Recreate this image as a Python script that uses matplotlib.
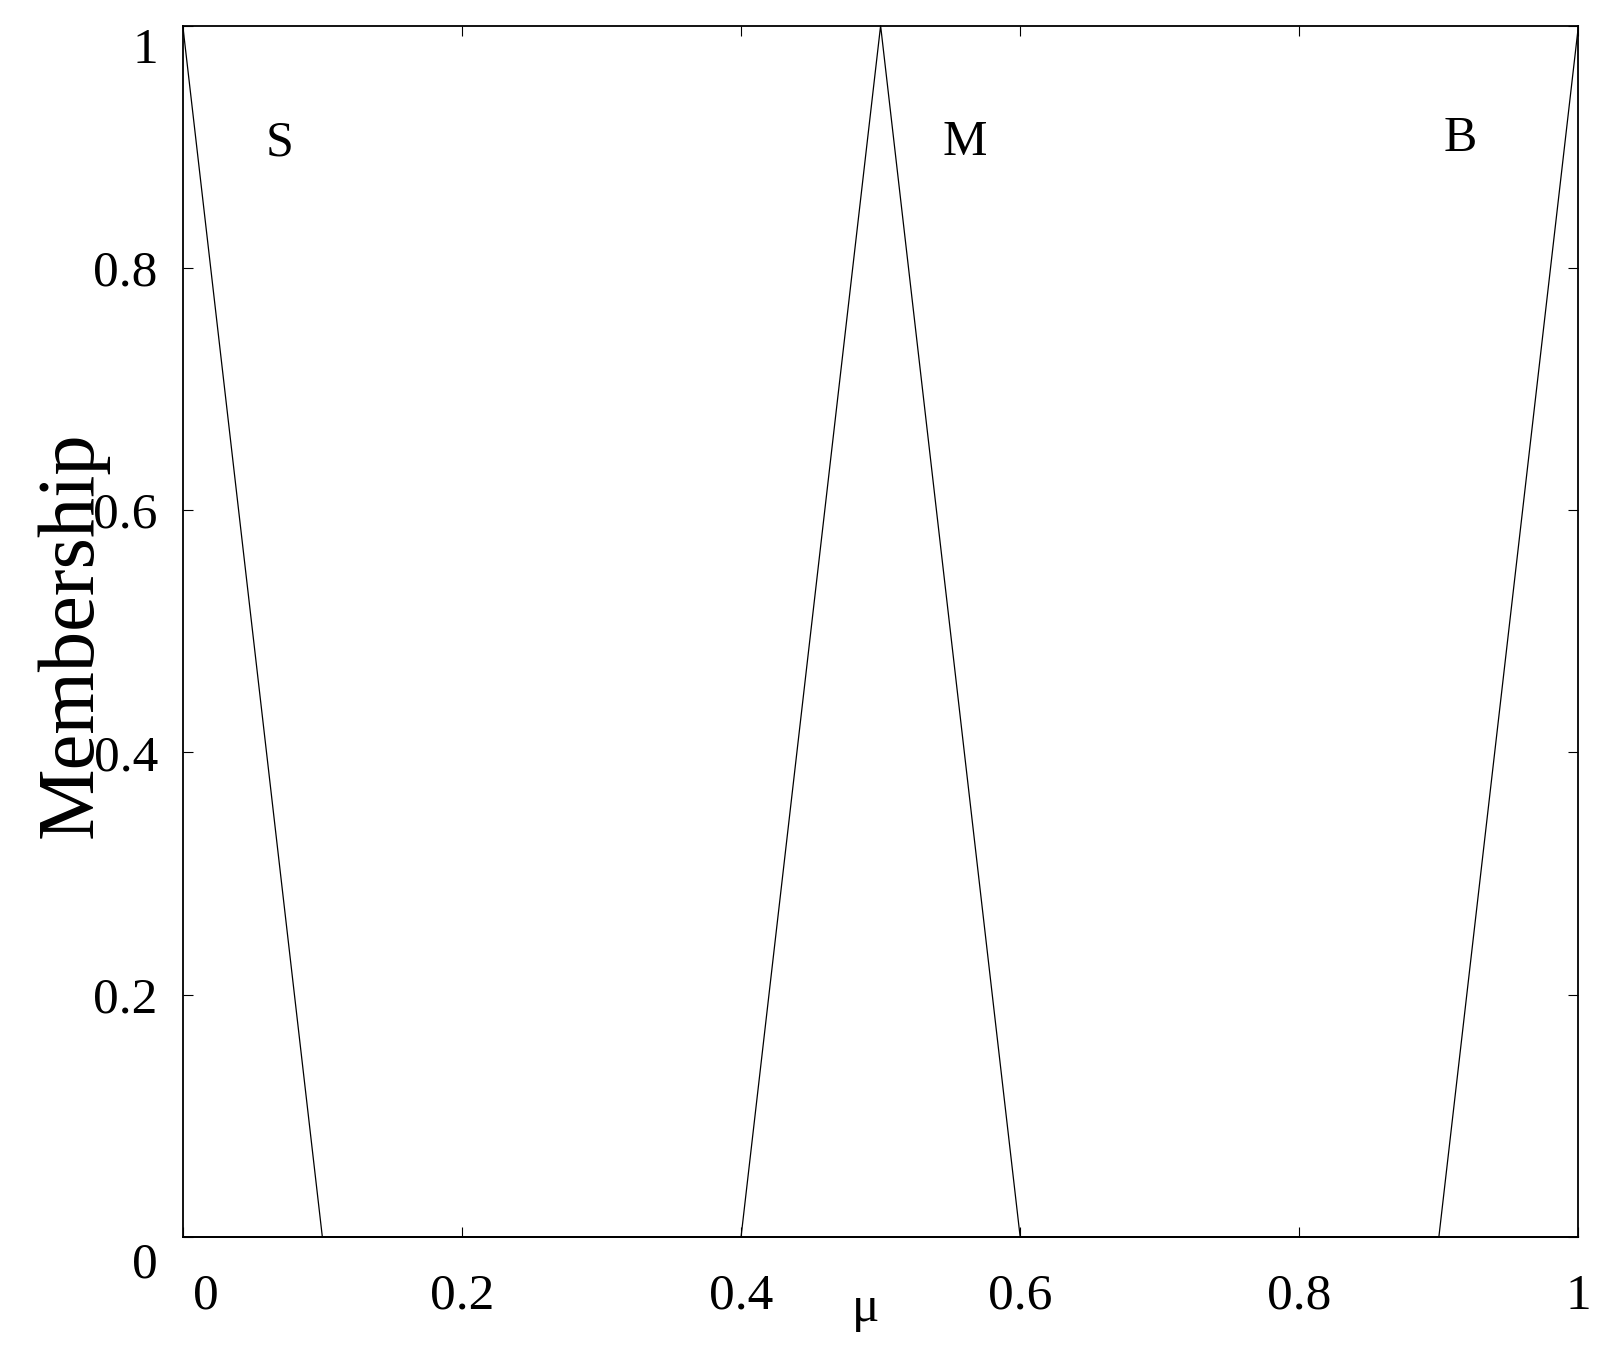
import matplotlib
matplotlib.use("Agg")
import matplotlib.pyplot as plt
from matplotlib.transforms import ScaledTranslation

# ---- data ----
mu = [0.0, 0.1, 0.4, 0.5, 0.6, 0.9, 1.0]
S_vals = [1, 0, 0, 0, 0, 0, 0]
M_vals = [0, 0, 0, 1, 0, 0, 0]
B_vals = [0, 0, 0, 0, 0, 0, 1]
set_names = ["S", "M", "B"]
set_label_x = [0.069, 0.56, 0.915]
set_label_y = [0.903, 0.903, 0.907]
xtick_vals = [0, 0.2, 0.4, 0.6, 0.8, 1]
xtick_labels = ["0", "0.2", "0.4", "0.6", "0.8", "1"]
ytick_vals = [0, 0.2, 0.4, 0.6, 0.8, 1]
ytick_labels = ["0", "0.2", "0.4", "0.6", "0.8", "1"]

plt.rcParams['font.family'] = ['Liberation Serif', 'DejaVu Serif']

fig = plt.figure(figsize=(16.09, 13.55), dpi=100)
ax = fig.add_axes([0.1136, 0.0871, 0.981 - 0.1136, 0.981 - 0.0871])

for vals in (S_vals, M_vals, B_vals):
    ax.plot(mu, vals, color='black', lw=0.9, clip_on=False)

for name, lx, ly in zip(set_names, set_label_x, set_label_y):
    ax.text(lx, ly, name, fontsize=36, ha='center', va='center')

ax.set_xlim(0, 1)
ax.set_ylim(0.004, 1)

ax.set_xticks(xtick_vals, xtick_labels)
ax.set_yticks(ytick_vals, ytick_labels)
ax.tick_params(axis='both', direction='in', length=7, width=0.8,
               top=True, right=True, labelsize=37)
ax.tick_params(axis='x', pad=26)
ax.tick_params(axis='y', pad=18)
for sp in ax.spines.values():
    sp.set_linewidth(1.3)

ax.set_ylabel("Membership", fontsize=58, va='center')
ax.yaxis.set_label_coords(-0.079, 0.497)
ax.set_xlabel("\u03bc", fontsize=37, va='center')
ax.xaxis.set_label_coords(0.489, -0.059)

# offsets for the end tick labels
xl = ax.get_xticklabels()
xl[0].set_transform(xl[0].get_transform() + ScaledTranslation(0.23, 0, fig.dpi_scale_trans))
yl = ax.get_yticklabels()
yl[0].set_transform(yl[0].get_transform() + ScaledTranslation(0, -0.23, fig.dpi_scale_trans))
yl[-1].set_transform(yl[-1].get_transform() + ScaledTranslation(0, -0.20, fig.dpi_scale_trans))

fig.savefig("out.png", dpi=100)
